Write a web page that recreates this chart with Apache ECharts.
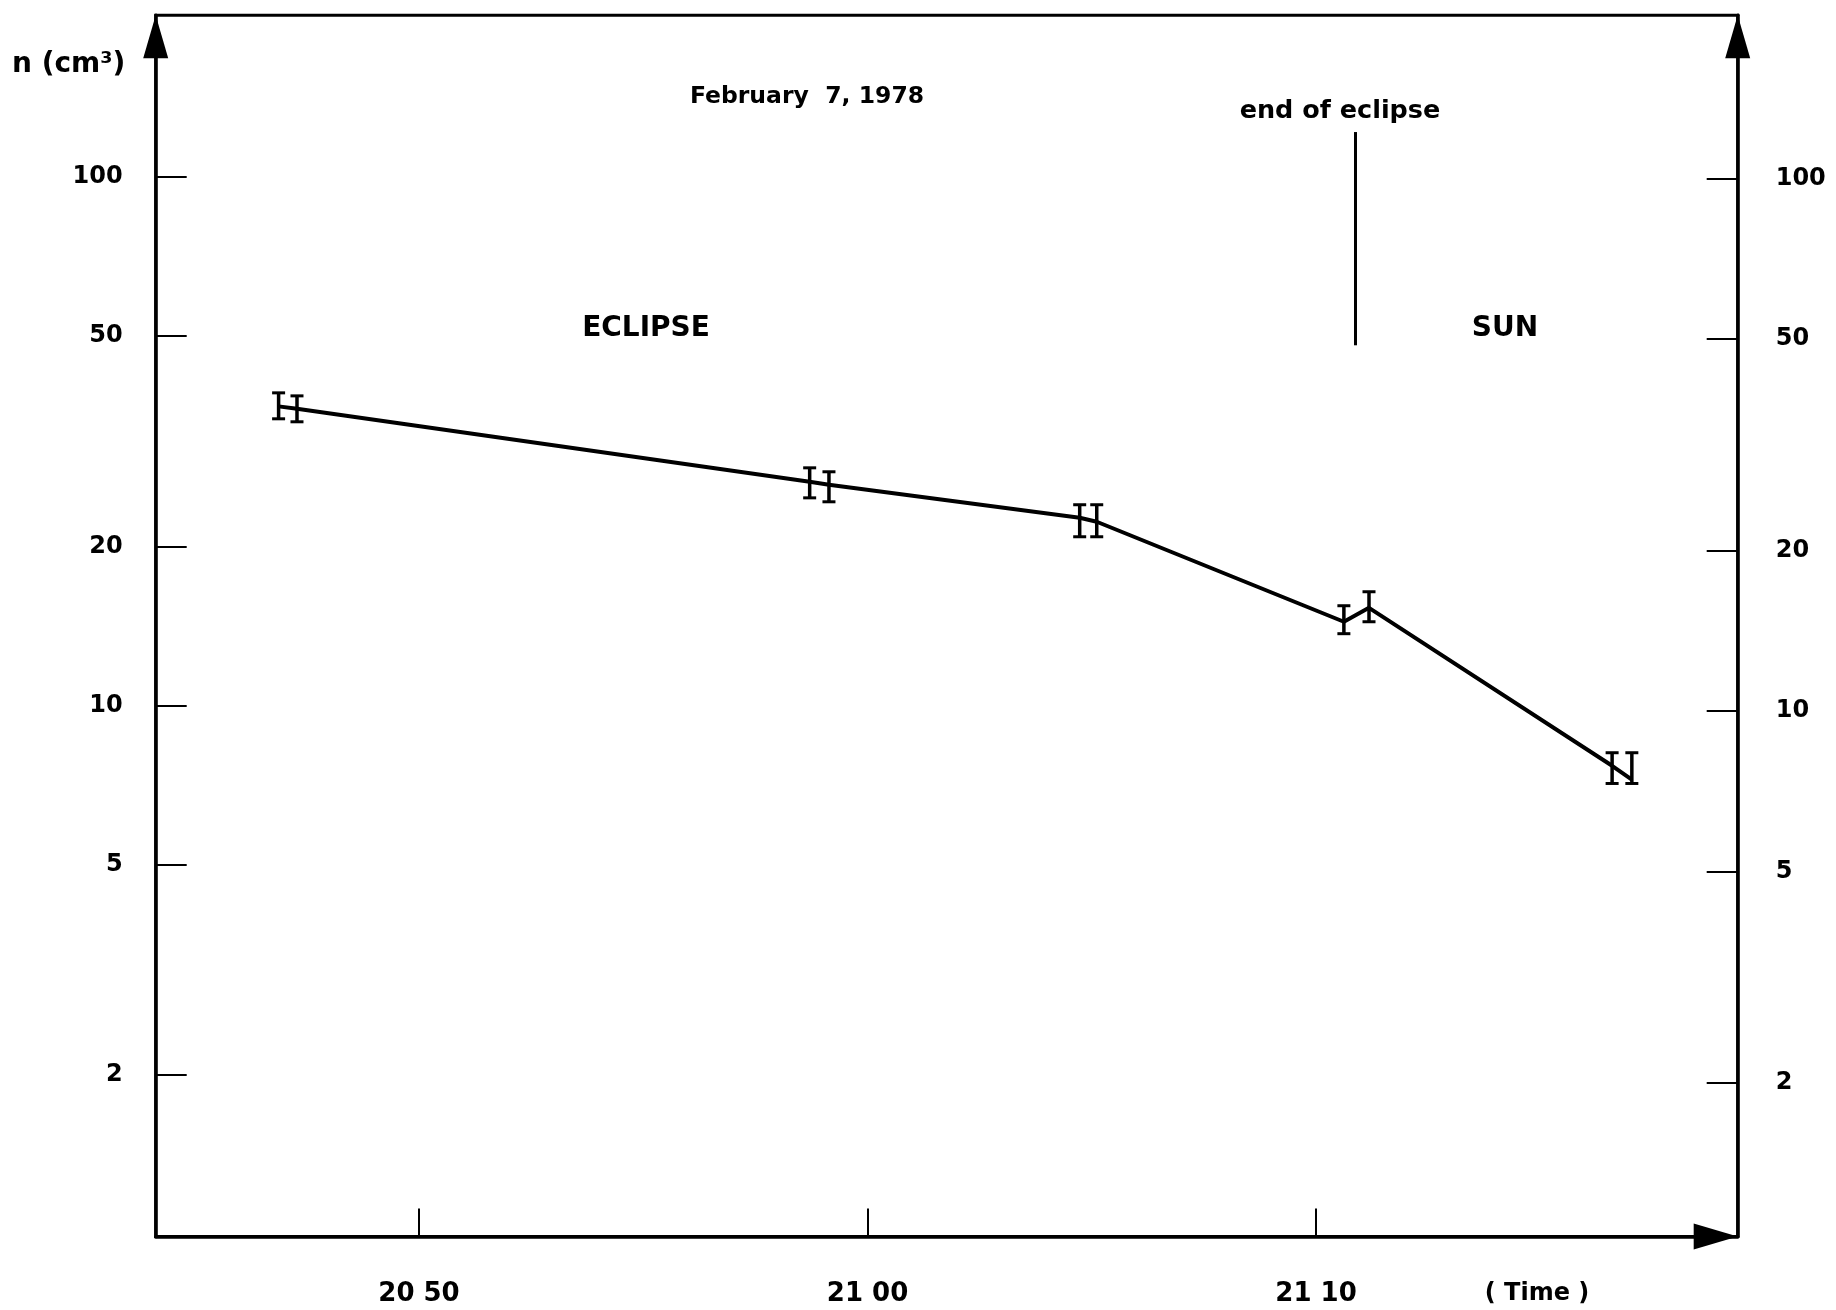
<!DOCTYPE html>
<html>
<head>
<meta charset="utf-8">
<script src="https://cdn.jsdelivr.net/npm/echarts@6/dist/echarts.min.js"></script>
<style>
  html, body { margin: 0; padding: 0; background: #fff; }
  #chart { width: 1836px; height: 1310px; }
</style>
</head>
<body>
<div id="chart"></div>
<script>
// ---- data (time in minutes after 20:00 UT, density n in cm^-3) ----
const timeMin  = [46.87, 47.28, 58.71, 59.14, 64.73, 65.11, 70.62, 71.18, 76.60, 77.04];
const density  = [36.79, 36.40, 26.49, 26.15, 22.65, 22.26, 14.40, 15.30, 7.69, 7.24];
const errLow   = [34.85, 34.40, 24.70, 24.28, 20.85, 20.85, 13.67, 14.40, 7.12, 7.12];
const errHigh  = [39.02, 38.51, 28.15, 27.67, 23.97, 23.97, 15.44, 16.41, 8.14, 8.14];

const xTickValues = [50, 60, 70];
const xTickLabels = ['20 50', '21 00', '21 10'];
const yTickValues = [2, 5, 10, 20, 50, 100];

const eclipseEndTime = 70.88;
const eclipseMarkTop = 121.5;
const eclipseMarkBottom = 48;

const FONT = 'DejaVu Sans';

const chart = echarts.init(document.getElementById('chart'));

const lineData = timeMin.map((t, i) => [t, density[i]]);
const errData = timeMin.map((t, i) => [t, errLow[i], errHigh[i]]);

const xLabelMap = {};
xTickValues.forEach((v, i) => { xLabelMap[v] = xTickLabels[i]; });

function yAxisCommon(position, min, max) {
  return {
    type: 'log',
    logBase: 10,
    position: position,
    min: min,
    max: max,
    splitLine: { show: false },
    minorTick: { show: false },
    axisLine: {
      show: true,
      lineStyle: { color: '#000', width: 3.5 },
      symbol: ['none', 'triangle'],
      symbolSize: [25, 43],
      symbolOffset: [0, -21.5]
    },
    axisTick: {
      show: true,
      inside: true,
      length: 31,
      lineStyle: { color: '#000', width: 2 },
      customValues: yTickValues
    },
    axisLabel: {
      show: true,
      customValues: yTickValues,
      margin: position === 'left' ? 33 : 38,
      color: '#000',
      fontFamily: FONT,
      fontWeight: 'bold',
      fontSize: 24,
      formatter: v => String(Math.round(v))
    }
  };
}

const option = {
  backgroundColor: '#fff',
  animation: false,
  grid: {
    left: 155.7,
    right: 98.3,
    top: 15.2,
    bottom: 73.5,
    show: true,
    borderColor: '#000',
    borderWidth: 3,
    backgroundColor: 'transparent'
  },
  xAxis: {
    type: 'value',
    min: 44.13,
    max: 79.40,
    splitLine: { show: false },
    axisLine: {
      show: true,
      onZero: false,
      lineStyle: { color: '#000', width: 3.5 },
      symbol: ['none', 'triangle'],
      symbolSize: [26, 44],
      symbolOffset: [0, -22]
    },
    axisTick: {
      show: true,
      inside: true,
      length: 28,
      lineStyle: { color: '#000', width: 2 },
      customValues: xTickValues
    },
    axisLabel: {
      show: true,
      customValues: xTickValues,
      margin: 45,
      color: '#000',
      fontFamily: FONT,
      fontWeight: 'bold',
      fontSize: 26,
      formatter: v => xLabelMap[Math.round(v)] || ''
    }
  },
  yAxis: [
    yAxisCommon('left', 0.99, 202.1),
    yAxisCommon('right', 1.03, 203.1)
  ],
  series: [
    {
      type: 'line',
      data: lineData,
      yAxisIndex: 0,
      showSymbol: false,
      symbol: 'none',
      lineStyle: { color: '#000', width: 4 },
      z: 2,
      markLine: {
        silent: true,
        symbol: 'none',
        label: { show: false },
        lineStyle: { color: '#000', width: 3, type: 'solid' },
        data: [[
          { coord: [eclipseEndTime, eclipseMarkTop] },
          { coord: [eclipseEndTime, eclipseMarkBottom] }
        ]]
      }
    },
    {
      type: 'custom',
      yAxisIndex: 0,
      data: errData,
      encode: { x: 0, y: [1, 2] },
      z: 3,
      renderItem: function (params, api) {
        const x = api.value(0);
        const lo = api.coord([x, api.value(1)]);
        const hi = api.coord([x, api.value(2)]);
        const cw = 6.5;
        return {
          type: 'group',
          children: [
            { type: 'line', shape: { x1: lo[0], y1: lo[1], x2: hi[0], y2: hi[1] }, style: { stroke: '#000', lineWidth: 3.5 } },
            { type: 'line', shape: { x1: lo[0] - cw, y1: lo[1], x2: lo[0] + cw, y2: lo[1] }, style: { stroke: '#000', lineWidth: 3 } },
            { type: 'line', shape: { x1: hi[0] - cw, y1: hi[1], x2: hi[0] + cw, y2: hi[1] }, style: { stroke: '#000', lineWidth: 3 } }
          ]
        };
      }
    }
  ],
  graphic: [
    { type: 'text', x: 12, y: 65, style: { text: 'n (cm³)', font: 'bold 28px "DejaVu Sans"', fill: '#000', align: 'left', verticalAlign: 'middle' } },
    { type: 'text', x: 807, y: 97, style: { text: 'February  7, 1978', font: 'bold 23.5px "DejaVu Sans"', fill: '#000', align: 'center', verticalAlign: 'middle' } },
    { type: 'text', x: 1340, y: 111, style: { text: 'end of eclipse', font: 'bold 25.5px "DejaVu Sans"', fill: '#000', align: 'center', verticalAlign: 'middle' } },
    { type: 'text', x: 646, y: 329, style: { text: 'ECLIPSE', font: 'bold 28px "DejaVu Sans"', fill: '#000', align: 'center', verticalAlign: 'middle' } },
    { type: 'text', x: 1505, y: 329, style: { text: 'SUN', font: 'bold 28px "DejaVu Sans"', fill: '#000', align: 'center', verticalAlign: 'middle' } },
    { type: 'text', x: 1537, y: 1294, style: { text: '( Time )', font: 'bold 24px "DejaVu Sans"', fill: '#000', align: 'center', verticalAlign: 'middle' } }
  ]
};

chart.setOption(option);
</script>
</body>
</html>
